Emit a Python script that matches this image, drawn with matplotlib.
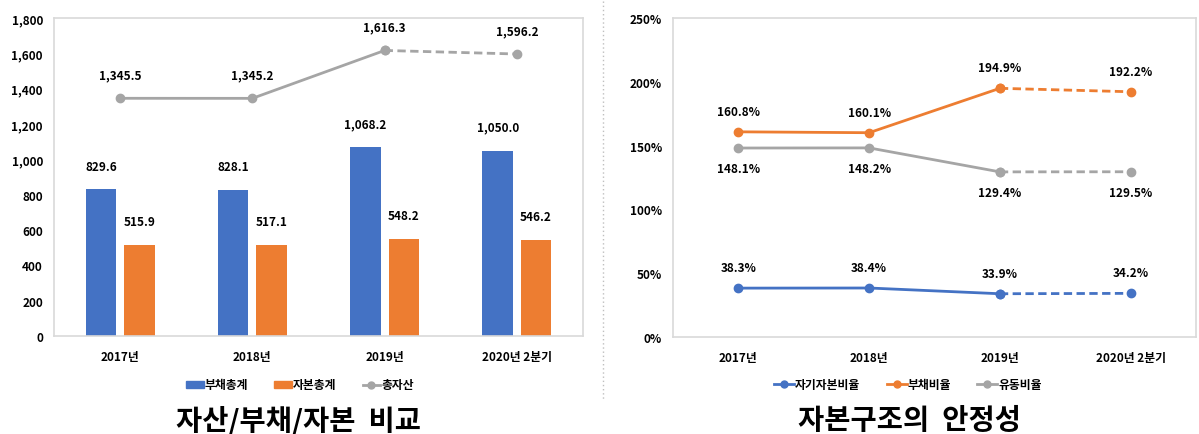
import numpy as np
import matplotlib
matplotlib.use("Agg")
from matplotlib import pyplot as plt
from matplotlib.lines import Line2D

plt.rcParams['font.family'] = ['Noto Sans CJK KR', 'DejaVu Sans']
plt.rcParams['font.weight'] = 'bold'

categories = ['2017년', '2018년', '2019년', '2020년 2분기']
debt_total = [829.6, 828.1, 1068.2, 1050.0]
equity_total = [515.9, 517.1, 548.2, 546.2]
asset_total = [1345.5, 1345.2, 1616.3, 1596.2]

equity_ratio = [38.3, 38.4, 33.9, 34.2]
debt_ratio = [160.8, 160.1, 194.9, 192.2]
current_ratio = [148.1, 148.2, 129.4, 129.5]

BLUE = '#4472C4'
ORANGE = '#ED7D31'
GRAY = '#A5A5A5'
FRAME = '#D9D9D9'

fig = plt.figure(figsize=(11.99, 4.35), dpi=100)
ax1 = fig.add_axes([54/1199, 1 - 337/435, (583-54)/1199, (337-19)/435])
ax2 = fig.add_axes([673/1199, 1 - 338/435, (1196-673)/1199, (338-19)/435])

x = np.arange(len(categories))


def style(ax):
    for s in ax.spines.values():
        s.set_color(FRAME)
        s.set_linewidth(1.2)
    ax.tick_params(length=0, labelsize=8.5, pad=8)
    ax.set_xlim(-0.5, len(categories) - 0.5)
    ax.set_xticks(x)
    ax.set_xticklabels(categories)
    ax.tick_params(axis='x', pad=10)


def split_line(ax, vals, color):
    ax.plot(x[:3], vals[:3], color=color, lw=2, marker='o', ms=6, zorder=3)
    ax.plot(x[2:], vals[2:], color=color, lw=2, ls=(0, (3, 1.6)), marker='o', ms=6, zorder=3)


# left chart
style(ax1)
w = 0.23
off = 0.145
ax1.bar(x - off, debt_total, w, color=BLUE, zorder=2)
ax1.bar(x + off, equity_total, w, color=ORANGE, zorder=2)
split_line(ax1, asset_total, GRAY)
ax1.set_ylim(0, 1800)
ax1.set_yticks(range(0, 1801, 200))
ax1.set_yticklabels([f'{v:,}' for v in range(0, 1801, 200)])
for i in range(len(categories)):
    ax1.annotate(f'{debt_total[i]:,.1f}', (x[i] - off, debt_total[i]), xytext=(0, 12),
                 textcoords='offset points', ha='center', va='bottom', fontsize=8.5)
    ax1.annotate(f'{equity_total[i]:,.1f}', (x[i] + off, equity_total[i]), xytext=(0, 12),
                 textcoords='offset points', ha='center', va='bottom', fontsize=8.5)
    ax1.annotate(f'{asset_total[i]:,.1f}', (x[i], asset_total[i]), xytext=(0, 12),
                 textcoords='offset points', ha='center', va='bottom', fontsize=8.5)

h1 = [plt.Rectangle((0, 0), 1, 1, color=BLUE), plt.Rectangle((0, 0), 1, 1, color=ORANGE),
      Line2D([], [], color=GRAY, lw=2, marker='o', ms=5)]
fig.legend(h1, ['부채총계', '자본총계', '총자산'], loc='center', bbox_to_anchor=(300/1199, 1 - 386/435),
           ncol=3, frameon=False, fontsize=8.5, handlelength=1.5, handleheight=0.6,
           columnspacing=2.2, handletextpad=0.1)

# right chart
style(ax2)
split_line(ax2, equity_ratio, BLUE)
split_line(ax2, debt_ratio, ORANGE)
split_line(ax2, current_ratio, GRAY)
ax2.set_ylim(0, 250)
ax2.set_yticks(range(0, 251, 50))
ax2.set_yticklabels([f'{v}%' for v in range(0, 251, 50)])
for i in range(len(categories)):
    ax2.annotate(f'{equity_ratio[i]:.1f}%', (x[i], equity_ratio[i]), xytext=(0, 10),
                 textcoords='offset points', ha='center', va='bottom', fontsize=8.5)
    ax2.annotate(f'{debt_ratio[i]:.1f}%', (x[i], debt_ratio[i]), xytext=(0, 10),
                 textcoords='offset points', ha='center', va='bottom', fontsize=8.5)
    ax2.annotate(f'{current_ratio[i]:.1f}%', (x[i], current_ratio[i]), xytext=(0, -10),
                 textcoords='offset points', ha='center', va='top', fontsize=8.5)

h2 = [Line2D([], [], color=c, lw=2, marker='o', ms=5) for c in (BLUE, ORANGE, GRAY)]
fig.legend(h2, ['자기자본비율', '부채비율', '유동비율'], loc='center', bbox_to_anchor=(908/1199, 1 - 386/435),
           ncol=3, frameon=False, fontsize=8.5, handlelength=1.7, columnspacing=2.2, handletextpad=0.1)

# titles
fig.text(299/1199, 1 - 421/435, '자산/부채/자본  비교', ha='center', va='center', fontsize=20.5, fontweight='bold')
fig.text(910/1199, 1 - 421/435, '자본구조의  안정성', ha='center', va='center', fontsize=20.5, fontweight='bold')

# separator
fig.add_artist(Line2D([603/1199, 603/1199], [1 - 2/435, 1 - 400/435], color='#BFBFBF', lw=1, ls=(0, (1, 2))))

fig.savefig('out.png', dpi=100)
